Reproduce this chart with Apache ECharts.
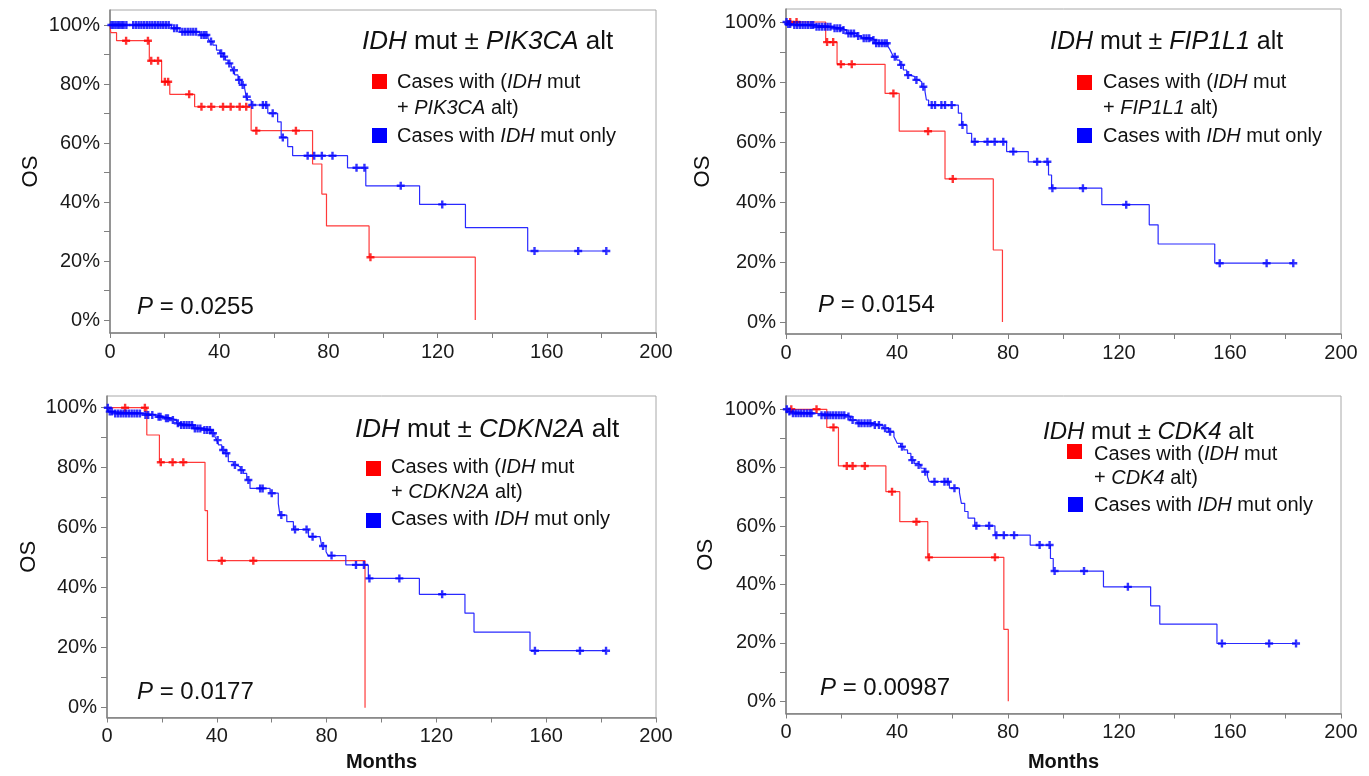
<!DOCTYPE html>
<html>
<head>
<meta charset="utf-8">
<title>IDH mut OS by co-alteration</title>
<script src="https://cdn.jsdelivr.net/npm/echarts@6/dist/echarts.min.js"></script>
<style>
  html, body { margin: 0; padding: 0; background: #fff; }
  #chart { width: 1369px; height: 776px; }
</style>
</head>
<body>
<div id="chart"></div>
<script>
// Kaplan-Meier steps: [months, survival after the drop]
// censor lists are months only, survival is looked up on the step curve

// PIK3CA panel
const pik3caAltSteps = [[0,1],[0.3,0.974],[2.4,0.947],[14.4,0.879],[18.9,0.808],[21.9,0.765],[31,0.723],[51.7,0.642],[74.2,0.529],[77.6,0.427],[79.3,0.319],[94.9,0.213],[133.8,0]];
const pik3caAltCensor = [5.9,13.9,15.1,17.6,20.1,21.3,29,33.5,37.1,41.4,44.2,47.5,49.9,53.6,68.1,95.4];
const pik3caOnlySteps = [[0,1],[22.5,0.989],[25.6,0.977],[32.9,0.966],[35.9,0.955],[36.5,0.944],[37.7,0.932],[39,0.915],[40.2,0.904],[41.4,0.893],[42.3,0.881],[43.2,0.87],[44.4,0.859],[45.1,0.847],[45.7,0.831],[46.9,0.814],[48.1,0.797],[49.3,0.786],[49.9,0.757],[50.5,0.746],[51.7,0.729],[57.8,0.701],[61.4,0.672],[62.7,0.619],[65.1,0.588],[66.9,0.557],[87,0.516],[93.7,0.455],[113.4,0.392],[130.2,0.313],[153,0.234],[181.8,0.234]];
const pik3caOnlyCensor = [0.5,1.2,2,2.8,3.5,4.3,5,6,8.5,9.5,10.5,11.5,12.5,13.5,14.5,15.5,16.5,17.5,18.5,19.5,20.5,21.5,23.5,24.5,26.5,27.5,28.5,29.5,30.5,31.5,33.5,34.5,35.3,37,40.7,41.8,43.7,45.4,47.3,48.6,50.1,52.1,56,57.2,59.6,63.3,72.4,74.8,77.6,81.5,90.3,93.2,106.5,121.7,155.5,171.5,181.8];

// FIP1L1 panel
const fip1l1AltSteps = [[0,1],[14.3,0.933],[18.4,0.859],[35.7,0.762],[40.8,0.636],[57.3,0.477],[74.7,0.24],[78,0]];
const fip1l1AltCensor = [1.5,3.8,14.8,17,19.8,23.7,38.7,51.2,60.1];
const fip1l1OnlySteps = [[0,1],[0.3,0.993],[2,0.99],[10.5,0.984],[17,0.979],[20.1,0.973],[21.8,0.962],[25.5,0.953],[27.2,0.946],[30.9,0.94],[32,0.929],[36.8,0.918],[37.5,0.907],[38.1,0.896],[38.7,0.884],[39.9,0.873],[41,0.857],[42.3,0.84],[43.5,0.823],[44.7,0.818],[46.4,0.807],[47.7,0.801],[48.9,0.784],[50.1,0.768],[50.6,0.74],[51.4,0.723],[62.1,0.696],[63.3,0.657],[65.2,0.629],[66.9,0.601],[79.5,0.568],[87.3,0.534],[94.6,0.49],[95.7,0.446],[113.8,0.391],[130.9,0.324],[134.1,0.26],[154.5,0.196],[182.8,0.196]];
const fip1l1OnlyCensor = [0.2,0.8,1.5,3,4,5,6,7,8,9,9.8,11,12,13,14,15,16,17.5,18.5,19.5,20.7,22.5,23.5,24.5,26,28,29,30,31.5,32.5,33.5,34.5,35.5,36.3,39.2,41.5,44,47,49.5,52.5,53.7,56,57.3,59.7,63.6,68,72.6,75.2,78.3,81.9,90.5,94.2,96,107,122.6,156.3,173.2,182.8];

// CDKN2A panel
const cdkn2aAltSteps = [[0,1],[14.5,0.909],[19.1,0.818],[35.7,0.657],[36.6,0.49],[94,0]];
const cdkn2aAltCensor = [6.6,13.8,19.6,23.9,27.8,41.8,53.3];
const cdkn2aOnlySteps = [[0,1],[0.5,0.987],[2.3,0.981],[13.2,0.976],[18.1,0.97],[20.5,0.965],[23,0.959],[25.4,0.948],[26.6,0.942],[31.5,0.931],[35.1,0.926],[38.1,0.915],[39.3,0.903],[40,0.892],[40.6,0.876],[41.8,0.859],[43,0.848],[44.2,0.82],[46,0.809],[47.2,0.803],[48.5,0.792],[49.7,0.781],[50.9,0.759],[52.1,0.731],[59.4,0.715],[62.4,0.681],[63,0.642],[65.5,0.62],[67.9,0.594],[73.4,0.57],[77.6,0.565],[78.2,0.539],[79.8,0.52],[80.5,0.507],[87,0.476],[95.2,0.431],[113.8,0.378],[130.4,0.315],[133.7,0.252],[154.1,0.19],[181.8,0.19]];
const cdkn2aOnlyCensor = [0.3,1,1.8,3,4,5,6,7,8,9,10,11,12,14,15,16.5,18.8,19.5,21.5,22.2,24,25.8,27,28,29,30,31,32,33,34,35.5,36.5,37.5,38.6,40.3,42.3,43.5,46.6,49,51.5,55.8,56.7,60,63.5,68.5,72.7,74.9,78.7,81.8,90.7,93.6,95.6,106.5,122.1,155.9,172.3,181.8];

// CDK4 panel
const cdk4AltSteps = [[0,1],[14.7,0.938],[18.9,0.806],[36,0.718],[41,0.615],[51.1,0.493],[78.5,0.246],[80.1,0]];
const cdk4AltCensor = [1.9,11,17.1,21.9,24,28.4,38.2,47,51.5,75.3];
const cdk4OnlySteps = [[0,1],[0.5,0.992],[2,0.986],[11,0.98],[21.9,0.975],[23.2,0.963],[25.6,0.952],[31,0.946],[35,0.935],[37,0.923],[38.9,0.906],[39.5,0.895],[40.1,0.883],[41.3,0.872],[42.5,0.861],[43.8,0.849],[45,0.826],[46.2,0.815],[47.4,0.809],[48.6,0.798],[49.8,0.786],[51,0.769],[51.6,0.752],[58.9,0.73],[62.5,0.715],[63.2,0.678],[64.4,0.65],[65.6,0.627],[68,0.601],[75.3,0.569],[88,0.535],[95.3,0.489],[96.3,0.446],[114.4,0.392],[131.4,0.327],[134.7,0.264],[155.3,0.198],[183.8,0.198]];
const cdk4OnlyCensor = [0.3,1.2,2.5,3.5,4.5,5.5,6.5,7.5,8.5,9.2,12.8,14,15,16,17,18,19,20,21,22.5,24,26.2,27.2,28.3,29.4,30.4,32,33.5,35.7,37.5,41.8,45.5,47.8,50.2,53.5,57.1,58.3,60.7,68.6,73.2,75.8,78.5,82.2,91.4,95,96.8,107.4,123.2,157.1,174.1,183.8];

const genes = ['PIK3CA', 'FIP1L1', 'CDKN2A', 'CDK4'];
const pValues = ['0.0255', '0.0154', '0.0177', '0.00987'];
const xTickLabels = [0, 40, 80, 120, 160, 200];
const yTickLabels = [0, 0.2, 0.4, 0.6, 0.8, 1];
const yMinorTicks = [0, 0.1, 0.2, 0.3, 0.4, 0.5, 0.6, 0.7, 0.8, 0.9, 1];

const altSteps = [pik3caAltSteps, fip1l1AltSteps, cdkn2aAltSteps, cdk4AltSteps];
const altCensor = [pik3caAltCensor, fip1l1AltCensor, cdkn2aAltCensor, cdk4AltCensor];
const onlySteps = [pik3caOnlySteps, fip1l1OnlySteps, cdkn2aOnlySteps, cdk4OnlySteps];
const onlyCensor = [pik3caOnlyCensor, fip1l1OnlyCensor, cdkn2aOnlyCensor, cdk4OnlyCensor];

// layout of the four panels (pixels)
const boxes = [
  { left: 110, top: 10,  width: 546, height: 323,   yMin: -0.044, yMax: 1.051,  osGap: 68, monthsGap: 0 },
  { left: 786, top: 9,   width: 555, height: 325,   yMin: -0.04,  yMax: 1.0433, osGap: 72, monthsGap: 0 },
  { left: 107, top: 396, width: 549, height: 321.5, yMin: -0.0327, yMax: 1.039, osGap: 67, monthsGap: 35 },
  { left: 786, top: 396, width: 555, height: 317.5, yMin: -0.0418, yMax: 1.0455, osGap: 69, monthsGap: 39 }
];
const textSpots = [
  { title: [362, 42],   tSize: 26, p: [137, 307], sq: [372, 74, 372, 128],   tx: 397,  lines: [82, 108, 136] },
  { title: [1050, 42],  tSize: 25, p: [818, 305], sq: [1077, 75, 1077, 128], tx: 1103, lines: [82, 108, 136] },
  { title: [355, 430],  tSize: 26, p: [137, 692], sq: [366, 461, 366, 513],  tx: 391,  lines: [467, 492, 519] },
  { title: [1043, 432], tSize: 24, p: [820, 688], sq: [1067, 444, 1068, 497], tx: 1094, lines: [454, 478, 505] }
];

const FONT = '"Liberation Sans", Arial, sans-serif';
const RED = '#ff0000', BLUE = '#0000ff';
const AXIS = '#808080';
const PLUS = 'path://M-1.2,-4H1.2V-1.2H4V1.2H1.2V4H-1.2V1.2H-4V-1.2H-1.2Z';

function survivalAt(steps, t) {
  let s = steps[0][1];
  for (const [m, v] of steps) { if (m <= t) s = v; else break; }
  return s;
}

const chart = echarts.init(document.getElementById('chart'));

const grid = boxes.map(b => ({
  left: b.left, top: b.top, width: b.width, height: b.height,
  show: true, borderColor: '#a8a8a8', borderWidth: 1, backgroundColor: 'transparent'
}));

const xAxis = boxes.map((b, i) => ({
  gridIndex: i, type: 'value', min: 0, max: 200, interval: 20,
  axisLine: { show: true, onZero: false, lineStyle: { color: AXIS, width: 1.5 } },
  axisTick: { show: true, length: 5, lineStyle: { color: AXIS } },
  axisLabel: { customValues: xTickLabels, margin: 9, fontSize: 20, color: '#1a1a1a', fontFamily: FONT },
  splitLine: { show: false },
  name: i >= 2 ? 'Months' : '', nameLocation: 'middle', nameGap: b.monthsGap,
  nameTextStyle: { fontSize: 20, fontWeight: 'bold', color: '#111', fontFamily: FONT }
}));

const yAxis = boxes.map((b, i) => ({
  gridIndex: i, type: 'value', min: b.yMin, max: b.yMax,
  axisLine: { show: true, onZero: false, lineStyle: { color: AXIS, width: 1.5 } },
  axisTick: { show: true, length: 6, customValues: yMinorTicks, lineStyle: { color: AXIS } },
  axisLabel: { customValues: yTickLabels, margin: 10, fontSize: 20, color: '#1a1a1a', fontFamily: FONT,
               formatter: v => Math.round(v * 100) + '%' },
  splitLine: { show: false },
  name: 'OS', nameLocation: 'middle', nameGap: b.osGap,
  nameTextStyle: { fontSize: 22, color: '#111', fontFamily: FONT }
}));

const series = [];
boxes.forEach((b, i) => {
  series.push({
    name: genes[i] + ' alt', type: 'line', step: 'end', xAxisIndex: i, yAxisIndex: i,
    data: altSteps[i], showSymbol: false, symbol: 'none',
    lineStyle: { color: '#ff3a3a', width: 1.2 }, z: 2
  });
  series.push({
    name: genes[i] + ' only', type: 'line', step: 'end', xAxisIndex: i, yAxisIndex: i,
    data: onlySteps[i], showSymbol: false, symbol: 'none',
    lineStyle: { color: '#2a2aff', width: 1.2 }, z: 3
  });
  series.push({
    type: 'scatter', xAxisIndex: i, yAxisIndex: i, symbol: PLUS, symbolSize: 8,
    data: altCensor[i].map(t => [t, survivalAt(altSteps[i], t)]),
    itemStyle: { color: RED }, z: 4
  });
  series.push({
    type: 'scatter', xAxisIndex: i, yAxisIndex: i, symbol: PLUS, symbolSize: 8,
    data: onlyCensor[i].map(t => [t, survivalAt(onlySteps[i], t)]),
    itemStyle: { color: BLUE }, z: 5
  });
});

const it = size => ({ fontStyle: 'italic', fontSize: size, fontFamily: FONT, fill: '#111' });
const nm = size => ({ fontSize: size, fontFamily: FONT, fill: '#111' });

const graphic = [];
textSpots.forEach((s, i) => {
  graphic.push({
    type: 'text', x: s.title[0], y: s.title[1],
    style: { text: '{i|IDH}{n| mut ± }{i|' + genes[i] + '}{n| alt}', verticalAlign: 'middle',
             fontSize: s.tSize, fontFamily: FONT, fill: '#111', rich: { i: it(s.tSize), n: nm(s.tSize) } }
  });
  graphic.push({
    type: 'text', x: s.p[0], y: s.p[1],
    style: { text: '{i|P}{n| = ' + pValues[i] + '}', verticalAlign: 'middle',
             fontSize: 24, fontFamily: FONT, fill: '#111', rich: { i: it(24), n: nm(24) } }
  });
  graphic.push({ type: 'rect', shape: { x: s.sq[0], y: s.sq[1], width: 15, height: 15 }, style: { fill: RED } });
  graphic.push({ type: 'rect', shape: { x: s.sq[2], y: s.sq[3], width: 15, height: 15 }, style: { fill: BLUE } });
  graphic.push({
    type: 'text', x: s.tx, y: s.lines[0],
    style: { text: '{n|Cases with (}{i|IDH}{n| mut}', verticalAlign: 'middle',
             fontSize: 20, fontFamily: FONT, fill: '#111', rich: { i: it(20), n: nm(20) } }
  });
  graphic.push({
    type: 'text', x: s.tx, y: s.lines[1],
    style: { text: '{n|+ }{i|' + genes[i] + '}{n| alt)}', verticalAlign: 'middle',
             fontSize: 20, fontFamily: FONT, fill: '#111', rich: { i: it(20), n: nm(20) } }
  });
  graphic.push({
    type: 'text', x: s.tx, y: s.lines[2],
    style: { text: '{n|Cases with }{i|IDH}{n| mut only}', verticalAlign: 'middle',
             fontSize: 20, fontFamily: FONT, fill: '#111', rich: { i: it(20), n: nm(20) } }
  });
});

chart.setOption({
  backgroundColor: '#fff',
  animation: false,
  grid, xAxis, yAxis, series, graphic
});
</script>
</body>
</html>
